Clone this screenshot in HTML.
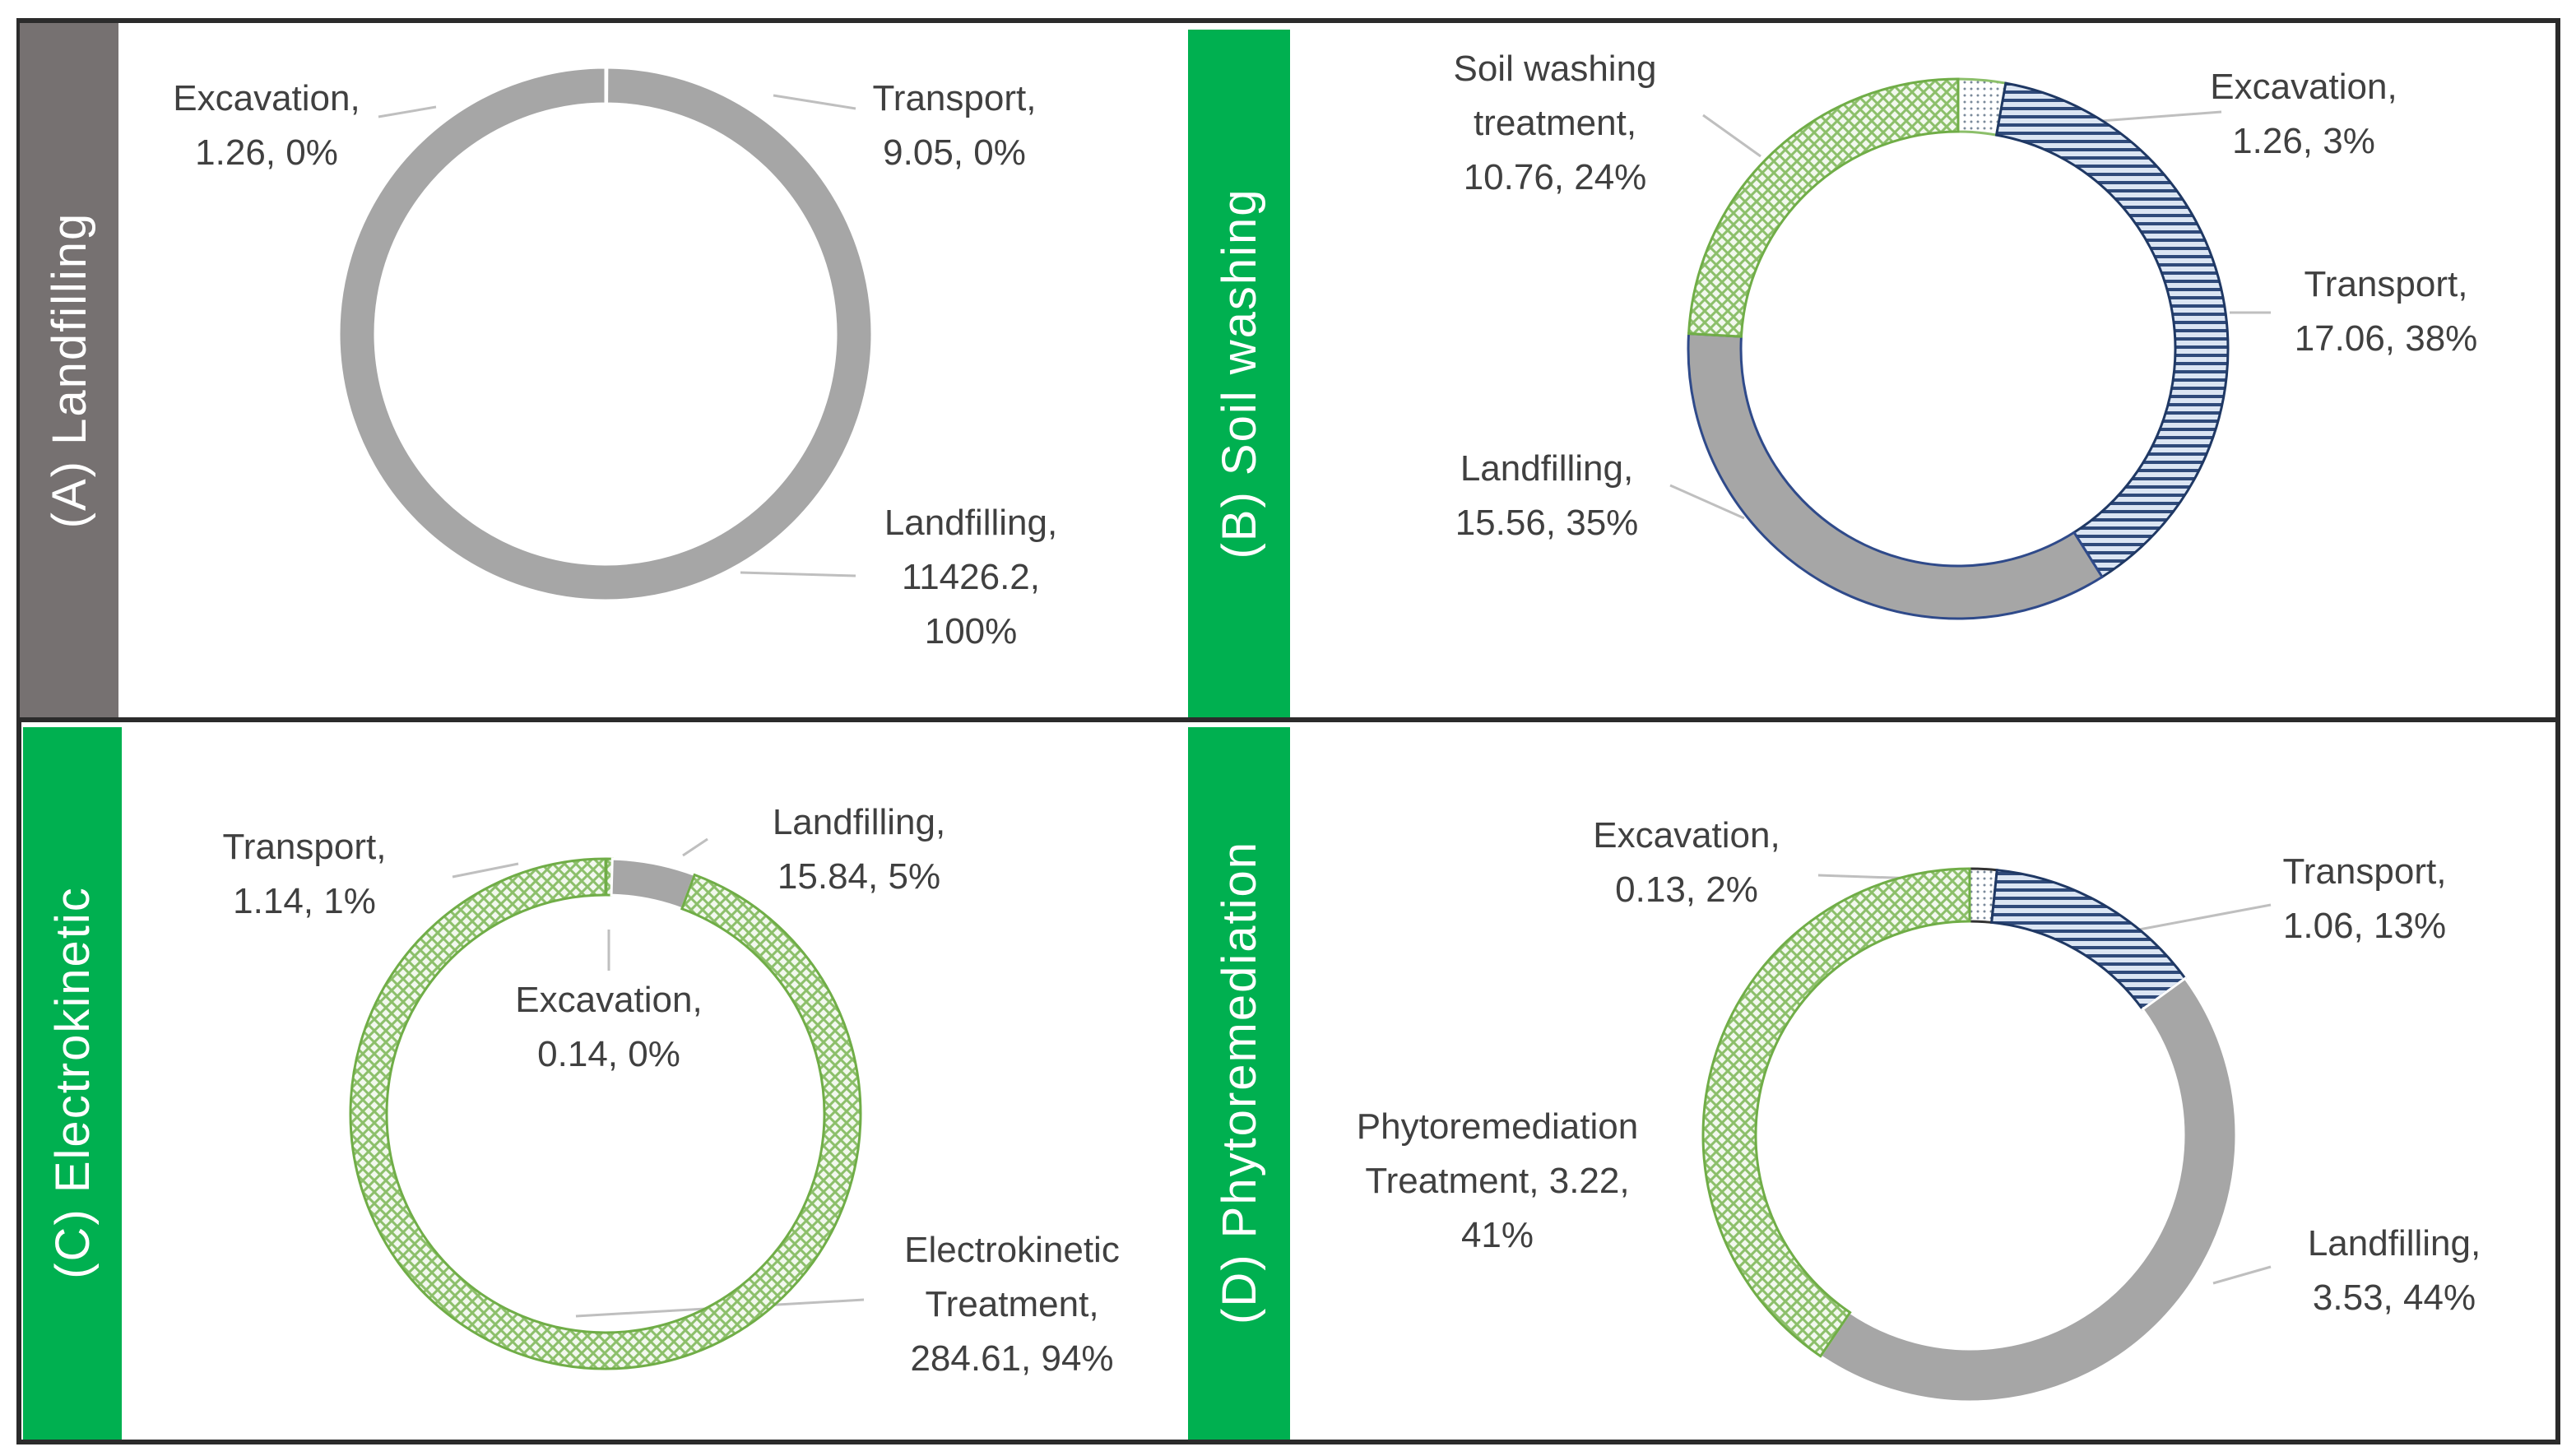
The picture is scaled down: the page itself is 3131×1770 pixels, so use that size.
<!DOCTYPE html>
<html><head><meta charset="utf-8"><style>
html,body{margin:0;padding:0;background:#fff}
svg{display:block}
text{font-family:"Liberation Sans Narrow","Liberation Sans",sans-serif;fill:#404040;font-size:44px}
.ttl{fill:#fff;font-family:"Liberation Sans",sans-serif;font-size:58px;letter-spacing:2px}
</style></head><body>
<svg id="chart" width="3131" height="1770" viewBox="0 0 3131 1770">
<defs>
<pattern id="hatch" width="14" height="14" patternUnits="userSpaceOnUse">
<rect width="14" height="14" fill="#f2f8ee"/>
<path d="M0 0L14 14M14 0L0 14" stroke="#8cbf6a" stroke-width="3"/>
</pattern>
<pattern id="stripes" width="10" height="10" patternUnits="userSpaceOnUse">
<rect width="10" height="10" fill="#dbe5f3"/>
<rect y="0" width="10" height="4" fill="#2f4a7a"/>
</pattern>
<pattern id="dots" width="8" height="8" patternUnits="userSpaceOnUse">
<rect width="8" height="8" fill="#fff"/>
<circle cx="4" cy="4" r="1.5" fill="#7a8a9a"/>
</pattern>
</defs>
<g>
<rect x="20" y="22" width="3092" height="6" fill="#2b2b2b"/>
<rect x="20" y="872" width="3092" height="6" fill="#2b2b2b"/>
<rect x="20" y="1750" width="3092" height="6" fill="#2b2b2b"/>
<rect x="3106" y="22" width="6" height="1734" fill="#2b2b2b"/>
<rect x="20" y="22" width="6" height="1734" fill="#2b2b2b"/>
</g>
<rect x="24" y="28" width="120" height="844" fill="#767171"/>
<rect x="1444" y="36" width="124" height="836" fill="#00b050"/>
<rect x="28" y="884" width="120" height="866" fill="#00b050"/>
<rect x="1444" y="884" width="124" height="866" fill="#00b050"/>
<text class="ttl" transform="translate(104,450) rotate(-90)" text-anchor="middle">(A) Landfilling</text>
<text class="ttl" transform="translate(1526,454) rotate(-90)" text-anchor="middle">(B) Soil washing</text>
<text class="ttl" transform="translate(108,1316) rotate(-90)" text-anchor="middle">(C) Electrokinetic</text>
<text class="ttl" transform="translate(1526,1316) rotate(-90)" text-anchor="middle">(D) Phytoremediation</text>
<g id="leaders" stroke="#bfbfbf" stroke-width="3" fill="none">
<path d="M460 142L530 130"/><path d="M1040 132L940 116"/><path d="M1040 700L900 696"/>
<path d="M2140 190L2070 140"/><path d="M2700 136L2540 148"/><path d="M2760 380L2710 380"/><path d="M2120 630L2030 590"/>
<path d="M550 1066L630 1050"/><path d="M830 1040L860 1020"/><path d="M740 1180L740 1130"/><path d="M1050 1580L700 1600"/>
<path d="M2210 1064L2390 1070"/><path d="M2760 1100L2600 1130"/><path d="M2760 1540L2690 1560"/>
</g>
<g id="donuts"></g>
</svg>
<script>
const panelA_values=[1.26,9.05,11426.2];
const panelB_values=[1.26,17.06,15.56,10.76];
const panelC_values=[0.14,1.14,15.84,284.61];
const panelD_values=[0.13,1.06,3.53,3.22];
const categories=["Excavation","Transport","Landfilling","Treatment"];
const labelsA=[["Excavation,","1.26, 0%"],["Transport,","9.05, 0%"],["Landfilling,","11426.2,","100%"]];
const labelsB=[["Excavation,","1.26, 3%"],["Transport,","17.06, 38%"],["Landfilling,","15.56, 35%"],["Soil washing","treatment,","10.76, 24%"]];
const labelsC=[["Excavation,","0.14, 0%"],["Transport,","1.14, 1%"],["Landfilling,","15.84, 5%"],["Electrokinetic","Treatment,","284.61, 94%"]];
const labelsD=[["Excavation,","0.13, 2%"],["Transport,","1.06, 13%"],["Landfilling,","3.53, 44%"],["Phytoremediation","Treatment, 3.22,","41%"]];

const NS="http://www.w3.org/2000/svg";
const root=document.getElementById('donuts');
function arc(cx,cy,R,r,a0,a1){
  const p=(rad,a)=>[cx+rad*Math.sin(a),cy-rad*Math.cos(a)];
  const L=(a1-a0)>Math.PI?1:0;
  const [x0,y0]=p(R,a0),[x1,y1]=p(R,a1),[x2,y2]=p(r,a1),[x3,y3]=p(r,a0);
  return `M${x0} ${y0}A${R} ${R} 0 ${L} 1 ${x1} ${y1}L${x2} ${y2}A${r} ${r} 0 ${L} 0 ${x3} ${y3}Z`;
}
function donut(name,vals,cx,cy,R,r,fills,strokes,labels,lpos){
  const g=document.createElementNS(NS,'g');
  
  
  root.appendChild(g);
  const tot=vals.reduce((a,b)=>a+b,0);
  let a=0;
  vals.forEach((v,i)=>{
    const a1=a+v/tot*2*Math.PI;
    const path=document.createElementNS(NS,'path');
    path.setAttribute('d',arc(cx,cy,R,r,a,Math.min(a1,a+2*Math.PI-1e-4)));
    path.setAttribute('fill',fills[i]);
    path.setAttribute('stroke',strokes[i]);
    path.setAttribute('stroke-width','3');
    
    
    g.appendChild(path);
    a=a1;
  });
  labels.forEach((lines,i)=>{
    const t=document.createElementNS(NS,'text');
    t.setAttribute('text-anchor','middle');
    
    
    lines.forEach((s,j)=>{
      const ts=document.createElementNS(NS,'tspan');
      ts.setAttribute('x',lpos[i][0]);
      ts.setAttribute('y',lpos[i][1]+j*66);
      ts.textContent=s;
      t.appendChild(ts);
    });
    g.appendChild(t);
  });
}
donut('donut-a',panelA_values,736,406,324,280,['#a6a6a6','#a6a6a6','#a6a6a6'],['#fff','#fff','#fff'],labelsA,[[324,134],[1160,134],[1180,650]]);
donut('donut-b',panelB_values,2380,424,328,264,['url(#dots)','url(#stripes)','#a6a6a6','url(#hatch)'],['#8cbf6a','#1f3864','#2f4a8a','#70ad47'],labelsB,[[2800,120],[2900,360],[1880,584],[1890,98]]);
donut('donut-c',panelC_values,736,1354,310,266,['#a6a6a6','url(#hatch)','#a6a6a6','url(#hatch)'],['#fff','#70ad47','#fff','#70ad47'],labelsC,[[740,1230],[370,1044],[1044,1014],[1230,1534]]);
donut('donut-d',panelD_values,2394,1380,324,260,['url(#dots)','url(#stripes)','#a6a6a6','url(#hatch)'],['#333','#1f3864','#fff','#70ad47'],labelsD,[[2050,1030],[2874,1074],[2910,1526],[1820,1384]]);
</script>
</body></html>
